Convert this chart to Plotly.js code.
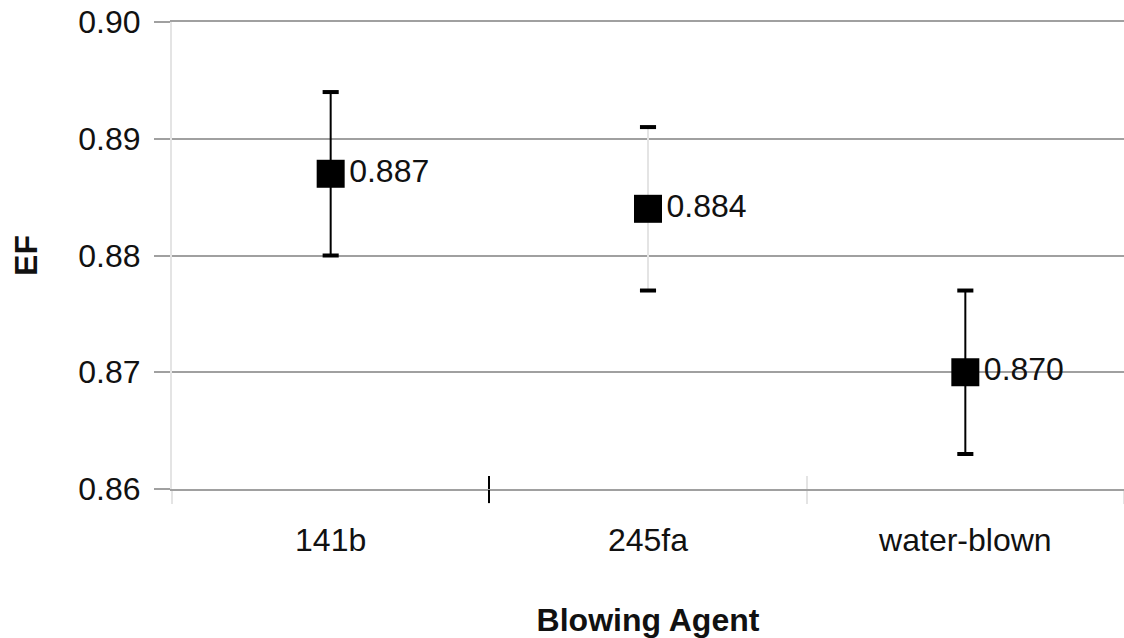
<!DOCTYPE html>
<html>
<head>
<meta charset="utf-8">
<script src="https://cdn.plot.ly/plotly-3.0.1.min.js"></script>
<style>html,body{margin:0;padding:0;background:#fff;}#chart{width:1124px;height:638px;}</style>
</head>
<body>
<div id="chart"></div>
<script>
// Data
const categories = ["141b", "245fa", "water-blown"];
const efValues = [0.887, 0.884, 0.870];
const efErrors = [0.007, 0.007, 0.007];
const valueLabels = ["0.887", "0.884", "0.870"];
const stemColors = ["#000000", "#e4e4e4", "#000000"];
const yTickVals = [0.86, 0.87, 0.88, 0.89, 0.90];
const yTickText = ["0.86", "0.87", "0.88", "0.89", "0.90"];
const blackDividers = [0.5];
const greyDividers = [1.5];

const FONT = "Liberation Sans, Arial, sans-serif";
const FS = 32;

const traces = [];
// stems (error bars without caps), one trace per point for individual colours
categories.forEach((c, i) => {
  traces.push({
    type: "scatter", mode: "markers",
    x: [c], y: [efValues[i]],
    marker: {size: 1, color: "rgba(0,0,0,0)"},
    error_y: {type: "data", array: [efErrors[i]], visible: true, color: stemColors[i], thickness: 2, width: 0},
    hoverinfo: "skip", showlegend: false
  });
});
// caps
const capX = [], capY = [];
categories.forEach((c, i) => { capX.push(c, c); capY.push(efValues[i] + efErrors[i], efValues[i] - efErrors[i]); });
traces.push({
  type: "scatter", mode: "markers", x: capX, y: capY,
  marker: {symbol: "line-ew", size: 11.5, line: {width: 4, color: "#000"}},
  hoverinfo: "skip", showlegend: false
});
// main markers + labels
traces.push({
  type: "scatter", mode: "markers+text",
  x: categories, y: efValues, text: valueLabels, textposition: "middle right",
  textfont: {family: FONT, size: FS, color: "#111"},
  marker: {symbol: "square", size: 28, color: "#000"},
  showlegend: false
});
// divider tick helpers on overlay axes
traces.push({type: "scatter", x: [], y: [], xaxis: "x2", yaxis: "y", showlegend: false});
traces.push({type: "scatter", x: [], y: [], xaxis: "x3", yaxis: "y", showlegend: false});
traces.push({type: "scatter", x: [], y: [], xaxis: "x4", yaxis: "y", showlegend: false});

const baseOverlay = {
  overlaying: "x", anchor: "y", range: [-0.5, 2.5], type: "linear",
  showgrid: false, zeroline: false, showline: false, showticklabels: false,
  tickmode: "array", ticklen: 13, tickwidth: 2
};

const layout = {
  width: 1124, height: 638,
  margin: {l: 172, r: 0, t: 22, b: 149},
  paper_bgcolor: "#fff", plot_bgcolor: "#fff",
  font: {family: FONT, color: "#111", size: FS},
  xaxis: {
    type: "category", categoryorder: "array", categoryarray: categories,
    range: [-0.5, 2.5], tickson: "boundaries", ticks: "outside", ticklen: 13, tickwidth: 2,
    tickcolor: "#e4e4e4", showgrid: false, zeroline: false,
    showline: true, linecolor: "#a0a0a0", linewidth: 2, mirror: true,
    tickfont: {family: FONT, size: FS, color: "#111"}, ticklabelstandoff: 22,
    title: {text: "Blowing Agent", font: {family: FONT, size: FS, color: "#111", weight: "bold"}, standoff: 53}
  },
  xaxis2: Object.assign({}, baseOverlay, {tickvals: blackDividers, ticks: "inside", tickcolor: "#000"}),
  xaxis3: Object.assign({}, baseOverlay, {tickvals: blackDividers, ticks: "outside", tickcolor: "#000"}),
  xaxis4: Object.assign({}, baseOverlay, {tickvals: greyDividers, ticks: "inside", tickcolor: "#e4e4e4"}),
  yaxis: {
    range: [0.86, 0.90], tickmode: "array", tickvals: yTickVals, ticktext: yTickText,
    ticks: "outside", ticklen: 16, tickwidth: 2, tickcolor: "#a0a0a0",
    showgrid: true, gridcolor: "#a0a0a0", gridwidth: 2, zeroline: false,
    showline: true, linecolor: "#e4e4e4", linewidth: 2,
    tickfont: {family: FONT, size: FS, color: "#111"}, ticklabelstandoff: 7,
    title: {text: "EF", font: {family: FONT, size: FS, color: "#111", weight: "bold"}, standoff: 31}
  }
};

Plotly.newPlot("chart", traces, layout, {displayModeBar: false, staticPlot: true});
</script>
</body>
</html>
